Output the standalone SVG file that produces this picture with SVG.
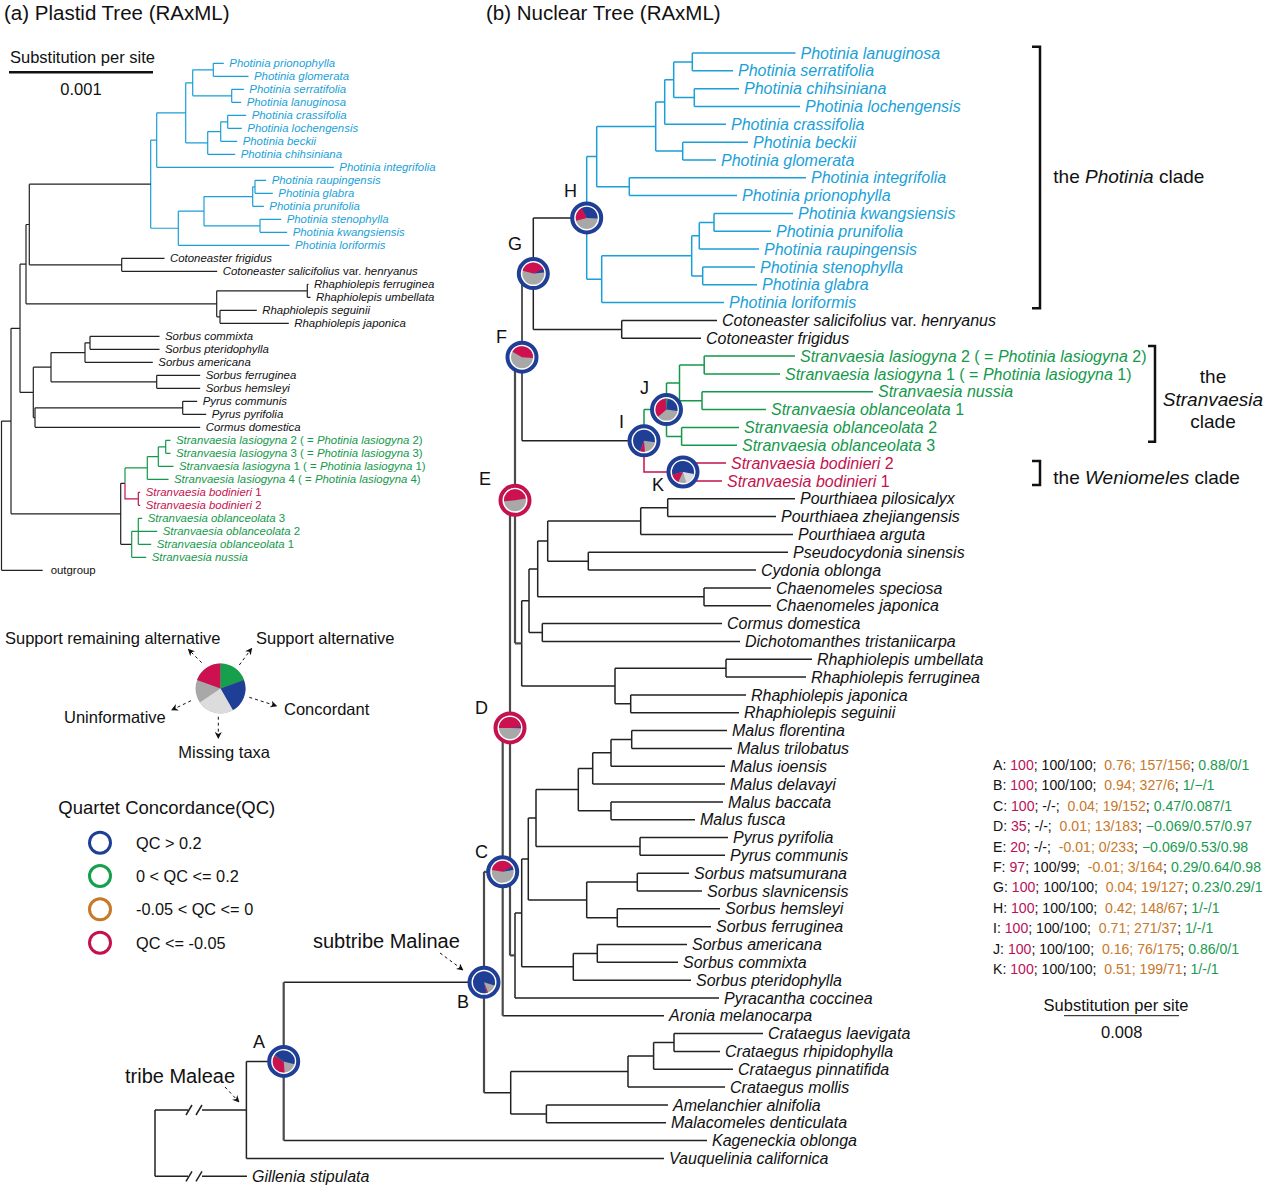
<svg xmlns="http://www.w3.org/2000/svg" width="1269" height="1187" viewBox="0 0 1269 1187">
<style>
text{font-family:"Liberation Sans",Arial,sans-serif;fill:#111}
.n{font-size:16px;font-style:italic}
.p{font-size:11.4px;font-style:italic}
.u{font-style:normal}
.bl{fill:#1b9fd8}
.gr{fill:#14994a}
.rd{fill:#c4124e}
.ln{fill:none;stroke:#222;stroke-width:1.5}
.lb{fill:none;stroke:#1b9fd8;stroke-width:1.5}
.lg{fill:none;stroke:#14994a;stroke-width:1.5}
.lr{fill:none;stroke:#c4124e;stroke-width:1.5}
.bk{fill:none;stroke:#4a4a4a;stroke-width:2.2}
.pl{stroke-width:1.2}
.ringB{fill:#fff;stroke:#1f3e96;stroke-width:4}
.ringR{fill:#fff;stroke:#c4124e;stroke-width:4}
.seg{fill:none;stroke-width:11}
.sg{fill:none;stroke-width:25}
.cB{stroke:#1f3e96}.cR{stroke:#cc1050}.cG{stroke:#17a04c}.cL{stroke:#dcdcdc}.cD{stroke:#a8a8a8}
.dash{fill:none;stroke:#111;stroke-width:1;stroke-dasharray:3 3}
.brk{fill:none;stroke:#111;stroke-width:2.5}
.lab{font-size:18px}
.st{font-size:14.1px;white-space:pre}
.m{fill:#b8105a}.o{fill:#c8782a}.g2{fill:#1a9a50}
</style>
<defs>
<marker id="ah" viewBox="0 0 10 10" refX="9" refY="5" markerWidth="7" markerHeight="7" orient="auto"><path d="M0 0 L10 5 L0 10 L3 5 z" fill="#111"/></marker>
</defs>

<!-- titles -->
<text x="4" y="19.5" font-size="20.5">(a) Plastid Tree (RAxML)</text>
<text x="486" y="19.5" font-size="20.5">(b) Nuclear Tree (RAxML)</text>

<!-- plastid scale -->
<g id="plastid-scale">
<text x="10" y="63" font-size="16.5">Substitution per site</text>
<line x1="9" y1="72.3" x2="153" y2="72.3" stroke="#111" stroke-width="2.5"/>
<text x="81" y="95" font-size="16.5" text-anchor="middle">0.001</text>
</g>

<g id="connectors">
<!-- plastid tree -->
<path class="lb pl" d="M213.3 63.3V76.3M213.3 63.3H223.8M213.3 76.3H248.5
M231.7 89.3V102.3M231.7 89.3H243.8M231.7 102.3H241.2
M192.7 69.8V95.8M192.7 69.8H213.3M192.7 95.8H231.7
M227.7 115.3V128.3M227.7 115.3H246.2M227.7 128.3H241.8
M220.7 121.8V141.3M220.7 121.8H227.7M220.7 141.3H237.2
M207.7 131.55V154.3M207.7 131.55H220.7M207.7 154.3H235.2
M185.7 82.8V142.9M185.7 82.8H192.7M185.7 142.9H207.7
M156.7 112.85V167.3M156.7 112.85H185.7M156.7 167.3H333.8
M255 180.3V193.3M255 180.3H266.2M255 193.3H272.8
M252.7 186.8V206.3M252.7 186.8H255M252.7 206.3H263.8
M260 219.3V232.3M260 219.3H281.2M260 232.3H287.2
M204 196.55V225.8M204 196.55H252.7M204 225.8H260
M178.3 211.2V245.3M178.3 211.2H204M178.3 245.3H289.5
M150.7 140.1V228.25M150.7 140.1H156.7M150.7 228.25H178.3"/>
<path class="ln pl" d="M121.7 258.3V271.3M121.7 258.3H164.5M121.7 271.3H217.2
M29.3 184.2V264.8M29.3 184.2H150.7M29.3 264.8H121.7
M307.3 284.3V297.3M307.3 284.3H308.5M307.3 297.3H310.5
M220 310.3V323.3M220 310.3H256.8M220 323.3H288.8
M216.7 290.8V316.8M216.7 290.8H307.3M216.7 316.8H220
M26 224.5V303.8M26 224.5H29.3M26 303.8H216.7
M90 336.3V349.3M90 336.3H159.5M90 349.3H159.5
M85 342.8V362.3M85 342.8H90M85 362.3H152.8
M156.7 375.3V388.3M156.7 375.3H200.2M156.7 388.3H200.2
M51 352.55V381.8M51 352.55H85M51 381.8H156.7
M182.7 401.3V414.3M182.7 401.3H197.2M182.7 414.3H206.2
M35 407.8V427.3M35 407.8H182.7M35 427.3H200.2
M33.3 367.2V417.55M33.3 367.2H51M33.3 417.55H35
M20 264.15V392.4M20 264.15H26M20 392.4H33.3
M120.7 483.35V544.3M120.7 483.35H125M120.7 544.3H131.7
M11 328.3V513.8M11 328.3H20M11 513.8H120.7
M1.5 421.05V570.3M1.5 421.05H11M1.5 570.3H42.7"/>
<path class="lg pl" d="M165.7 440.3V453.3M165.7 440.3H170.5M165.7 453.3H170.5
M158.3 446.8V466.3M158.3 446.8H165.7M158.3 466.3H173.5
M147.3 456.55V479.3M147.3 456.55H158.3M147.3 479.3H168.5
M125 467.9V483.35M125 467.9H147.3
M138.3 518.3V544.3M138.3 518.3H142.2M138.3 531.3H157.2M138.3 544.3H151.2
M131.7 531.3V557.3M131.7 531.3H138.3M131.7 557.3H146.2"/>
<path class="lr pl" d="M125 483.35V498.8H138.3M138.3 492.3V505.3M138.3 492.3H140.2M138.3 505.3H140.2"/>

<!-- nuclear tree: Photinia clade -->
<path class="lb" d="M692.3 53V70.8M692.3 53H795.5M692.3 70.8H733
M694.3 88.7V106.5M694.3 88.7H739M694.3 106.5H800
M673.7 61.9V97.6M673.7 61.9H692.3M673.7 97.6H694.3
M664.7 79.75V124.3M664.7 79.75H673.7M664.7 124.3H726
M682.7 142.2V160M682.7 142.2H748M682.7 160H716
M655.7 102V151.1M655.7 102H664.7M655.7 151.1H682.7
M629.3 177.8V195.6M629.3 177.8H806M629.3 195.6H737
M596.7 126.6V186.7M596.7 126.6H655.7M596.7 186.7H629.3
M714 213.5V231.3M714 213.5H793M714 231.3H771
M699.3 222.4V249.1M699.3 222.4H714M699.3 249.1H759
M702.7 267V284.8M702.7 267H755M702.7 284.8H757
M691.7 235.8V275.9M691.7 235.8H699.3M691.7 275.9H702.7
M601.7 255.8V302.6M601.7 255.8H691.7M601.7 302.6H724
M586.7 156.6V279.2M586.7 156.6H596.7M586.7 279.2H601.7"/>
<path class="ln" d="M621.7 320.5V338.3M621.7 320.5H717M621.7 338.3H701
M533.3 217.9V329.4M533.3 217.9H586.7M533.3 329.4H621.7
M522 273.6V440.8M522 273.6H533.3M522 440.8H644"/>
<path class="lg" d="M704.2 356.1V373.9M704.2 356.1H795M704.2 373.9H780
M702 391.8V409.6M702 391.8H873M702 409.6H766
M679.5 365V400.7M679.5 365H704.2M679.5 400.7H702
M681.6 427.4V445.3M681.6 427.4H739M681.6 445.3H737
M666.5 382.9V436.4M666.5 382.9H679.5M666.5 436.4H681.6
M644 409.6V440.8M644 409.6H666.5"/>
<path class="lr" d="M644 440.8V472H683M683 463.1V480.9M683 463.1H726M683 480.9H722"/>
<path class="ln" d="M667.7 498.8V516.6M667.7 498.8H795M667.7 516.6H776
M640.7 507.7V534.4M640.7 507.7H667.7M640.7 534.4H793
M588.3 552.2V570.1M588.3 552.2H788M588.3 570.1H756
M547.7 521.05V561.15M547.7 521.05H640.7M547.7 561.15H588.3
M704 587.9V605.7M704 587.9H771M704 605.7H771
M537.7 541.1V596.8M537.7 541.1H547.7M537.7 596.8H704
M542.3 623.6V641.4M542.3 623.6H722M542.3 641.4H740
M529 568.95V632.5M529 568.95H537.7M529 632.5H542.3
M726 659.2V677.1M726 659.2H812M726 677.1H806
M630.7 694.9V712.7M630.7 694.9H746M630.7 712.7H739
M615 668.15V703.8M615 668.15H726M615 703.8H630.7
M521.7 600.7V686M521.7 600.7H529M521.7 686H615
M631.7 730.5V748.4M631.7 730.5H727M631.7 748.4H732
M611 739.45V766.2M611 739.45H631.7M611 766.2H725
M592.7 752.8V784M592.7 752.8H611M592.7 784H725
M611 801.9V819.7M611 801.9H723M611 819.7H695
M578.3 768.4V810.8M578.3 768.4H592.7M578.3 810.8H611
M640 837.5V855.3M640 837.5H728M640 855.3H725
M536 789.6V846.4M536 789.6H578.3M536 846.4H640
M637.3 873.2V891M637.3 873.2H689M637.3 891H702
M617.3 908.8V926.7M617.3 908.8H720M617.3 926.7H711
M586.7 882.1V917.75M586.7 882.1H637.3M586.7 917.75H617.3
M528.3 818V899.9M528.3 818H536M528.3 899.9H586.7
M597.3 944.5V962.3M597.3 944.5H687M597.3 962.3H678
M573.3 953.4V980.2M573.3 953.4H597.3M573.3 980.2H691
M521.7 858.95V966.8M521.7 858.95H528.3M521.7 966.8H573.3
M515 912.9V998M515 912.9H521.7M515 998H719
M502.7 1015.8H664
M674 1033.6V1051.5M674 1033.6H763M674 1051.5H720
M653.6 1042.55V1069.3M653.6 1042.55H674M653.6 1069.3H733
M628 1055.9V1087.1M628 1055.9H653.6M628 1087.1H725
M546.4 1105V1122.8M546.4 1105H668M546.4 1122.8H666
M510.7 1071.5V1113.9M510.7 1071.5H628M510.7 1113.9H546.4
M484 1092.7H510.7
M283.7 982.3H484M283.7 1140.6H707
M246.4 1061.45V1158.5M246.4 1061.45H283.7M246.4 1158.5H664
M155 1110V1176.3M155 1110H188M202 1110H246.4M155 1176.3H188M202 1176.3H247
M186 1115L192 1105M196 1115L202 1105M186 1181.3L192 1171.3M196 1181.3L202 1171.3"/>
<path class="bk" d="M515 357.2V643.35M515 357.2H522M515 643.35H521.7
M510 500.3V955.45M510 500.3H515M510 955.45H515
M502.7 727.9V1015.8M502.7 727.9H510
M484 871.85V1092.7M484 871.85H502.7
M283.7 982.3V1140.6"/>
</g>

<!-- plastid labels -->
<g id="plastid-labels">
<text class="p bl" x="229.3" y="67.3">Photinia prionophylla</text>
<text class="p bl" x="254" y="80.3">Photinia glomerata</text>
<text class="p bl" x="249.3" y="93.3">Photinia serratifolia</text>
<text class="p bl" x="246.7" y="106.3">Photinia lanuginosa</text>
<text class="p bl" x="251.7" y="119.3">Photinia crassifolia</text>
<text class="p bl" x="247.3" y="132.3">Photinia lochengensis</text>
<text class="p bl" x="242.7" y="145.3">Photinia beckii</text>
<text class="p bl" x="240.7" y="158.3">Photinia chihsiniana</text>
<text class="p bl" x="339.3" y="171.3">Photinia integrifolia</text>
<text class="p bl" x="271.7" y="184.3">Photinia raupingensis</text>
<text class="p bl" x="278.3" y="197.3">Photinia glabra</text>
<text class="p bl" x="269.3" y="210.3">Photinia prunifolia</text>
<text class="p bl" x="286.7" y="223.3">Photinia stenophylla</text>
<text class="p bl" x="292.7" y="236.3">Photinia kwangsiensis</text>
<text class="p bl" x="295" y="249.3">Photinia loriformis</text>
<text class="p" x="170" y="262.3">Cotoneaster frigidus</text>
<text class="p" x="222.7" y="275.3">Cotoneaster salicifolius <tspan class="u">var.</tspan> henryanus</text>
<text class="p" x="314" y="288.3">Rhaphiolepis ferruginea</text>
<text class="p" x="316" y="301.3">Rhaphiolepis umbellata</text>
<text class="p" x="262.3" y="314.3">Rhaphiolepis seguinii</text>
<text class="p" x="294.3" y="327.3">Rhaphiolepis japonica</text>
<text class="p" x="165" y="340.3">Sorbus commixta</text>
<text class="p" x="165" y="353.3">Sorbus pteridophylla</text>
<text class="p" x="158.3" y="366.3">Sorbus americana</text>
<text class="p" x="205.7" y="379.3">Sorbus ferruginea</text>
<text class="p" x="205.7" y="392.3">Sorbus hemsleyi</text>
<text class="p" x="202.7" y="405.3">Pyrus communis</text>
<text class="p" x="211.7" y="418.3">Pyrus pyrifolia</text>
<text class="p" x="205.7" y="431.3">Cormus domestica</text>
<text class="p gr" x="176" y="444.3">Stranvaesia lasiogyna<tspan class="u"> 2 ( = </tspan>Photinia lasiogyna<tspan class="u"> 2)</tspan></text>
<text class="p gr" x="176" y="457.3">Stranvaesia lasiogyna<tspan class="u"> 3 ( = </tspan>Photinia lasiogyna<tspan class="u"> 3)</tspan></text>
<text class="p gr" x="179" y="470.3">Stranvaesia lasiogyna<tspan class="u"> 1 ( = </tspan>Photinia lasiogyna<tspan class="u"> 1)</tspan></text>
<text class="p gr" x="174" y="483.3">Stranvaesia lasiogyna<tspan class="u"> 4 ( = </tspan>Photinia lasiogyna<tspan class="u"> 4)</tspan></text>
<text class="p rd" x="145.7" y="496.3">Stranvaesia bodinieri<tspan class="u"> 1</tspan></text>
<text class="p rd" x="145.7" y="509.3">Stranvaesia bodinieri<tspan class="u"> 2</tspan></text>
<text class="p gr" x="147.7" y="522.3">Stranvaesia oblanceolata<tspan class="u"> 3</tspan></text>
<text class="p gr" x="162.7" y="535.3">Stranvaesia oblanceolata<tspan class="u"> 2</tspan></text>
<text class="p gr" x="156.7" y="548.3">Stranvaesia oblanceolata<tspan class="u"> 1</tspan></text>
<text class="p gr" x="151.7" y="561.3">Stranvaesia nussia</text>
<text x="50.7" y="574.3" font-size="11.4">outgroup</text>
</g>

<!-- nuclear labels -->
<g id="nuclear-labels">
<text class="n bl" x="800.5" y="58.6">Photinia lanuginosa</text>
<text class="n bl" x="738" y="76.4">Photinia serratifolia</text>
<text class="n bl" x="744" y="94.3">Photinia chihsiniana</text>
<text class="n bl" x="805" y="112.1">Photinia lochengensis</text>
<text class="n bl" x="731" y="129.9">Photinia crassifolia</text>
<text class="n bl" x="753" y="147.8">Photinia beckii</text>
<text class="n bl" x="721" y="165.6">Photinia glomerata</text>
<text class="n bl" x="811" y="183.4">Photinia integrifolia</text>
<text class="n bl" x="742" y="201.2">Photinia prionophylla</text>
<text class="n bl" x="798" y="219.1">Photinia kwangsiensis</text>
<text class="n bl" x="776" y="236.9">Photinia prunifolia</text>
<text class="n bl" x="764" y="254.7">Photinia raupingensis</text>
<text class="n bl" x="760" y="272.6">Photinia stenophylla</text>
<text class="n bl" x="762" y="290.4">Photinia glabra</text>
<text class="n bl" x="729" y="308.2">Photinia loriformis</text>
<text class="n" x="722" y="326.1">Cotoneaster salicifolius <tspan class="u">var.</tspan> henryanus</text>
<text class="n" x="706" y="343.9">Cotoneaster frigidus</text>
<text class="n gr" x="800" y="361.7">Stranvaesia lasiogyna<tspan class="u"> 2 ( = </tspan>Photinia lasiogyna<tspan class="u"> 2)</tspan></text>
<text class="n gr" x="785" y="379.5">Stranvaesia lasiogyna<tspan class="u"> 1 ( = </tspan>Photinia lasiogyna<tspan class="u"> 1)</tspan></text>
<text class="n gr" x="878" y="397.4">Stranvaesia nussia</text>
<text class="n gr" x="771" y="415.2">Stranvaesia oblanceolata<tspan class="u"> 1</tspan></text>
<text class="n gr" x="744" y="433">Stranvaesia oblanceolata<tspan class="u"> 2</tspan></text>
<text class="n gr" x="742" y="450.9">Stranvaesia oblanceolata<tspan class="u"> 3</tspan></text>
<text class="n rd" x="731" y="468.7">Stranvaesia bodinieri<tspan class="u"> 2</tspan></text>
<text class="n rd" x="727" y="486.5">Stranvaesia bodinieri<tspan class="u"> 1</tspan></text>
<text class="n" x="800" y="504.4">Pourthiaea pilosicalyx</text>
<text class="n" x="781" y="522.2">Pourthiaea zhejiangensis</text>
<text class="n" x="798" y="540">Pourthiaea arguta</text>
<text class="n" x="793" y="557.8">Pseudocydonia sinensis</text>
<text class="n" x="761" y="575.7">Cydonia oblonga</text>
<text class="n" x="776" y="593.5">Chaenomeles speciosa</text>
<text class="n" x="776" y="611.3">Chaenomeles japonica</text>
<text class="n" x="727" y="629.2">Cormus domestica</text>
<text class="n" x="745" y="647">Dichotomanthes tristaniicarpa</text>
<text class="n" x="817" y="664.8">Rhaphiolepis umbellata</text>
<text class="n" x="811" y="682.7">Rhaphiolepis ferruginea</text>
<text class="n" x="751" y="700.5">Rhaphiolepis japonica</text>
<text class="n" x="744" y="718.3">Rhaphiolepis seguinii</text>
<text class="n" x="732" y="736.1">Malus florentina</text>
<text class="n" x="737" y="754">Malus trilobatus</text>
<text class="n" x="730" y="771.8">Malus ioensis</text>
<text class="n" x="730" y="789.6">Malus delavayi</text>
<text class="n" x="728" y="807.5">Malus baccata</text>
<text class="n" x="700" y="825.3">Malus fusca</text>
<text class="n" x="733" y="843.1">Pyrus pyrifolia</text>
<text class="n" x="730" y="860.9">Pyrus communis</text>
<text class="n" x="694" y="878.8">Sorbus matsumurana</text>
<text class="n" x="707" y="896.6">Sorbus slavnicensis</text>
<text class="n" x="725" y="914.4">Sorbus hemsleyi</text>
<text class="n" x="716" y="932.3">Sorbus ferruginea</text>
<text class="n" x="692" y="950.1">Sorbus americana</text>
<text class="n" x="683" y="967.9">Sorbus commixta</text>
<text class="n" x="696" y="985.8">Sorbus pteridophylla</text>
<text class="n" x="724" y="1003.6">Pyracantha coccinea</text>
<text class="n" x="669" y="1021.4">Aronia melanocarpa</text>
<text class="n" x="768" y="1039.2">Crataegus laevigata</text>
<text class="n" x="725" y="1057.1">Crataegus rhipidophylla</text>
<text class="n" x="738" y="1074.9">Crataegus pinnatifida</text>
<text class="n" x="730" y="1092.7">Crataegus mollis</text>
<text class="n" x="673" y="1110.6">Amelanchier alnifolia</text>
<text class="n" x="671" y="1128.4">Malacomeles denticulata</text>
<text class="n" x="712" y="1146.2">Kageneckia oblonga</text>
<text class="n" x="669" y="1164.1">Vauquelinia californica</text>
<text class="n" x="252" y="1181.9">Gillenia stipulata</text>
</g>

<!-- node pies -->
<g id="node-A" transform="translate(283.7 1061.45)"><circle r="14.5" class="ringB"/><circle r="11" fill="#a8a8a8"/><circle r="5.5" class="seg cB" stroke-dasharray="14.88 100" transform="rotate(215)"/><circle r="5.5" class="seg cR" stroke-dasharray="12 100" transform="rotate(85)"/><line x1="0" y1="0" x2="-9.5" y2="-5.5" stroke="#555" stroke-width="1"/></g>
<g id="node-B" transform="translate(484 982.3)"><circle r="14.5" class="ringB"/><circle r="11" fill="#a8a8a8"/><circle r="5.5" class="seg cB" stroke-dasharray="28.32 100" transform="rotate(75)"/><circle r="5.5" class="seg cR" stroke-dasharray="0.7 100" transform="rotate(68)"/></g>
<g id="node-C" transform="translate(502.7 871.85)"><circle r="14.5" class="ringB"/><circle r="11" fill="#a8a8a8"/><circle r="5.5" class="seg cR" stroke-dasharray="13.44 100" transform="rotate(190)"/><circle r="5.5" class="seg cB" stroke-dasharray="1.92 100" transform="rotate(-30)"/></g>
<g id="node-D" transform="translate(510 727.9)"><circle r="14.5" class="ringR"/><circle r="11" fill="#a8a8a8"/><circle r="5.5" class="seg cR" stroke-dasharray="16.8 100" transform="rotate(180)"/><circle r="5.5" class="seg cB" stroke-dasharray="0.7 100" transform="rotate(-5)"/></g>
<g id="node-E" transform="translate(515 500.3)"><circle r="14.5" class="ringR"/><circle r="11" fill="#a8a8a8"/><circle r="5.5" class="seg cR" stroke-dasharray="16.32 100" transform="rotate(175)"/></g>
<g id="node-F" transform="translate(522 357.2)"><circle r="14.5" class="ringB"/><circle r="11" fill="#a8a8a8"/><circle r="5.5" class="seg cR" stroke-dasharray="14.4 100" transform="rotate(210)"/></g>
<g id="node-G" transform="translate(533.3 273.6)"><circle r="14.5" class="ringB"/><circle r="11" fill="#a8a8a8"/><circle r="5.5" class="seg cR" stroke-dasharray="13.44 100" transform="rotate(195)"/><circle r="5.5" class="seg cB" stroke-dasharray="1.92 100" transform="rotate(-25)"/></g>
<g id="node-H" transform="translate(586.7 217.9)"><circle r="14.5" class="ringB"/><circle r="11" fill="#a8a8a8"/><circle r="5.5" class="seg cB" stroke-dasharray="11.52 100" transform="rotate(240)"/><circle r="5.5" class="seg cR" stroke-dasharray="7.2 100" transform="rotate(165)"/></g>
<g id="node-I" transform="translate(644 440.8)"><circle r="14.5" class="ringB"/><circle r="11" fill="#a8a8a8"/><circle r="5.5" class="seg cB" stroke-dasharray="24 100" transform="rotate(110)"/><circle r="5.5" class="seg cR" stroke-dasharray="2.4 100" transform="rotate(85)"/></g>
<g id="node-J" transform="translate(666.5 409.6)"><circle r="14.5" class="ringB"/><circle r="11" fill="#a8a8a8"/><circle r="5.5" class="seg cR" stroke-dasharray="12 100" transform="rotate(140)"/><circle r="5.5" class="seg cG" stroke-dasharray="0.96 100" transform="rotate(265)"/><circle r="5.5" class="seg cB" stroke-dasharray="8.64 100" transform="rotate(-85)"/></g>
<g id="node-K" transform="translate(683 472)"><circle r="14.5" class="ringB"/><circle r="11" fill="#a8a8a8"/><circle r="5.5" class="seg cB" stroke-dasharray="19.68 100" transform="rotate(165)"/><circle r="5.5" class="seg cL" stroke-dasharray="5.76 100" transform="rotate(10)"/><circle r="5.5" class="seg cR" stroke-dasharray="4.8 100" transform="rotate(115)"/></g>

<!-- node letters -->
<g id="node-letters" class="lab">
<text x="253" y="1048">A</text>
<text x="457" y="1008">B</text>
<text x="475" y="858">C</text>
<text x="475" y="714">D</text>
<text x="479" y="485">E</text>
<text x="496" y="343">F</text>
<text x="508" y="250">G</text>
<text x="564" y="197">H</text>
<text x="619" y="428">I</text>
<text x="640" y="394">J</text>
<text x="652" y="491">K</text>
</g>

<!-- tribe labels -->
<g id="tribe-labels">
<text x="125" y="1083" font-size="20">tribe Maleae</text>
<path class="dash" d="M225 1087L239 1102" marker-end="url(#ah)"/>
<text x="313" y="948" font-size="20">subtribe Malinae</text>
<path class="dash" d="M440 953L463 970" marker-end="url(#ah)"/>
</g>

<!-- clade brackets -->
<g id="clade-photinia">
<path class="brk" d="M1032 46.7H1040V308.3H1032"/>
<text x="1053.3" y="183" font-size="19">the <tspan font-style="italic">Photinia</tspan> clade</text>
</g>
<g id="clade-stranvaesia">
<path class="brk" d="M1148 346H1155V441.7H1148"/>
<text x="1213" y="382.5" font-size="19" text-anchor="middle">the</text>
<text x="1213" y="405.5" font-size="19" text-anchor="middle" font-style="italic">Stranvaesia</text>
<text x="1213" y="428" font-size="19" text-anchor="middle">clade</text>
</g>
<g id="clade-weniomeles">
<path class="brk" d="M1032 461H1040V485H1032"/>
<text x="1053.3" y="484" font-size="19">the <tspan font-style="italic">Weniomeles</tspan> clade</text>
</g>

<!-- legend pie -->
<g id="legend-pie">
<g transform="translate(220.5 688.5)">
<circle r="25" fill="#a8a8a8"/>
<circle r="12.5" class="sg cR" stroke-dasharray="15.27 200" transform="rotate(200)"/>
<circle r="12.5" class="sg cG" stroke-dasharray="15.27 200" transform="rotate(-90)"/>
<circle r="12.5" class="sg cB" stroke-dasharray="17.45 200" transform="rotate(-20)"/>
<circle r="12.5" class="sg cL" stroke-dasharray="18.54 200" transform="rotate(60)"/>
</g>
<path class="dash" d="M201.7 662.7L188.3 649.3" marker-end="url(#ah)"/>
<path class="dash" d="M239.3 665L251.7 648.3" marker-end="url(#ah)"/>
<path class="dash" d="M249.3 697.3L276.7 706" marker-end="url(#ah)"/>
<path class="dash" d="M191 700.7L171.7 710" marker-end="url(#ah)"/>
<path class="dash" d="M218.3 716.7V738.3" marker-end="url(#ah)"/>
<text x="5" y="644" font-size="16.5">Support remaining alternative</text>
<text x="256" y="644" font-size="16.5">Support alternative</text>
<text x="64" y="722.5" font-size="16.5">Uninformative</text>
<text x="284" y="715" font-size="16.5">Concordant</text>
<text x="178.3" y="758" font-size="16.5">Missing taxa</text>
</g>

<!-- QC legend -->
<g id="qc-legend">
<text x="58.3" y="814" font-size="18.5">Quartet Concordance(QC)</text>
<circle cx="100" cy="842.7" r="10.5" fill="none" stroke="#1f3e96" stroke-width="3"/>
<circle cx="100" cy="876" r="10.5" fill="none" stroke="#17a04c" stroke-width="3"/>
<circle cx="100" cy="909.3" r="10.5" fill="none" stroke="#c8782a" stroke-width="3"/>
<circle cx="100" cy="942.7" r="10.5" fill="none" stroke="#c4124e" stroke-width="3"/>
<text x="136" y="848.5" font-size="16.3">QC &gt; 0.2</text>
<text x="136" y="881.8" font-size="16.3">0 &lt; QC &lt;= 0.2</text>
<text x="136" y="915.1" font-size="16.3">-0.05 &lt; QC &lt;= 0</text>
<text x="136" y="948.5" font-size="16.3">QC &lt;= -0.05</text>
</g>

<!-- node stats -->
<g id="node-stats">
<text class="st" x="993" y="770">A: <tspan class="m">100</tspan>; 100/100;  <tspan class="o">0.76; 157/156</tspan>; <tspan class="g2">0.88/0/1</tspan></text>
<text class="st" x="993" y="790.4">B: <tspan class="m">100</tspan>; 100/100;  <tspan class="o">0.94; 327/6</tspan>; <tspan class="g2">1/−/1</tspan></text>
<text class="st" x="993" y="810.8">C: <tspan class="m">100</tspan>; -/-;  <tspan class="o">0.04; 19/152</tspan>; <tspan class="g2">0.47/0.087/1</tspan></text>
<text class="st" x="993" y="831.2">D: <tspan class="m">35</tspan>; -/-;  <tspan class="o">0.01; 13/183</tspan>; <tspan class="g2">−0.069/0.57/0.97</tspan></text>
<text class="st" x="993" y="851.6">E: <tspan class="m">20</tspan>; -/-;  <tspan class="o">-0.01; 0/233</tspan>; <tspan class="g2">−0.069/0.53/0.98</tspan></text>
<text class="st" x="993" y="872">F: <tspan class="m">97</tspan>; 100/99;  <tspan class="o">-0.01; 3/164</tspan>; <tspan class="g2">0.29/0.64/0.98</tspan></text>
<text class="st" x="993" y="892.4">G: <tspan class="m">100</tspan>; 100/100;  <tspan class="o">0.04; 19/127</tspan>; <tspan class="g2">0.23/0.29/1</tspan></text>
<text class="st" x="993" y="912.8">H: <tspan class="m">100</tspan>; 100/100;  <tspan class="o">0.42; 148/67</tspan>; <tspan class="g2">1/-/1</tspan></text>
<text class="st" x="993" y="933.2">I: <tspan class="m">100</tspan>; 100/100;  <tspan class="o">0.71; 271/37</tspan>; <tspan class="g2">1/-/1</tspan></text>
<text class="st" x="993" y="953.6">J: <tspan class="m">100</tspan>; 100/100;  <tspan class="o">0.16; 76/175</tspan>; <tspan class="g2">0.86/0/1</tspan></text>
<text class="st" x="993" y="974">K: <tspan class="m">100</tspan>; 100/100;  <tspan class="o">0.51; 199/71</tspan>; <tspan class="g2">1/-/1</tspan></text>
</g>

<!-- nuclear scale -->
<g id="nuclear-scale">
<text x="1116" y="1010.5" font-size="16.5" text-anchor="middle">Substitution per site</text>
<line x1="1064" y1="1015.7" x2="1179" y2="1015.7" stroke="#111" stroke-width="1"/>
<text x="1121.7" y="1038" font-size="16.5" text-anchor="middle">0.008</text>
</g>
</svg>
